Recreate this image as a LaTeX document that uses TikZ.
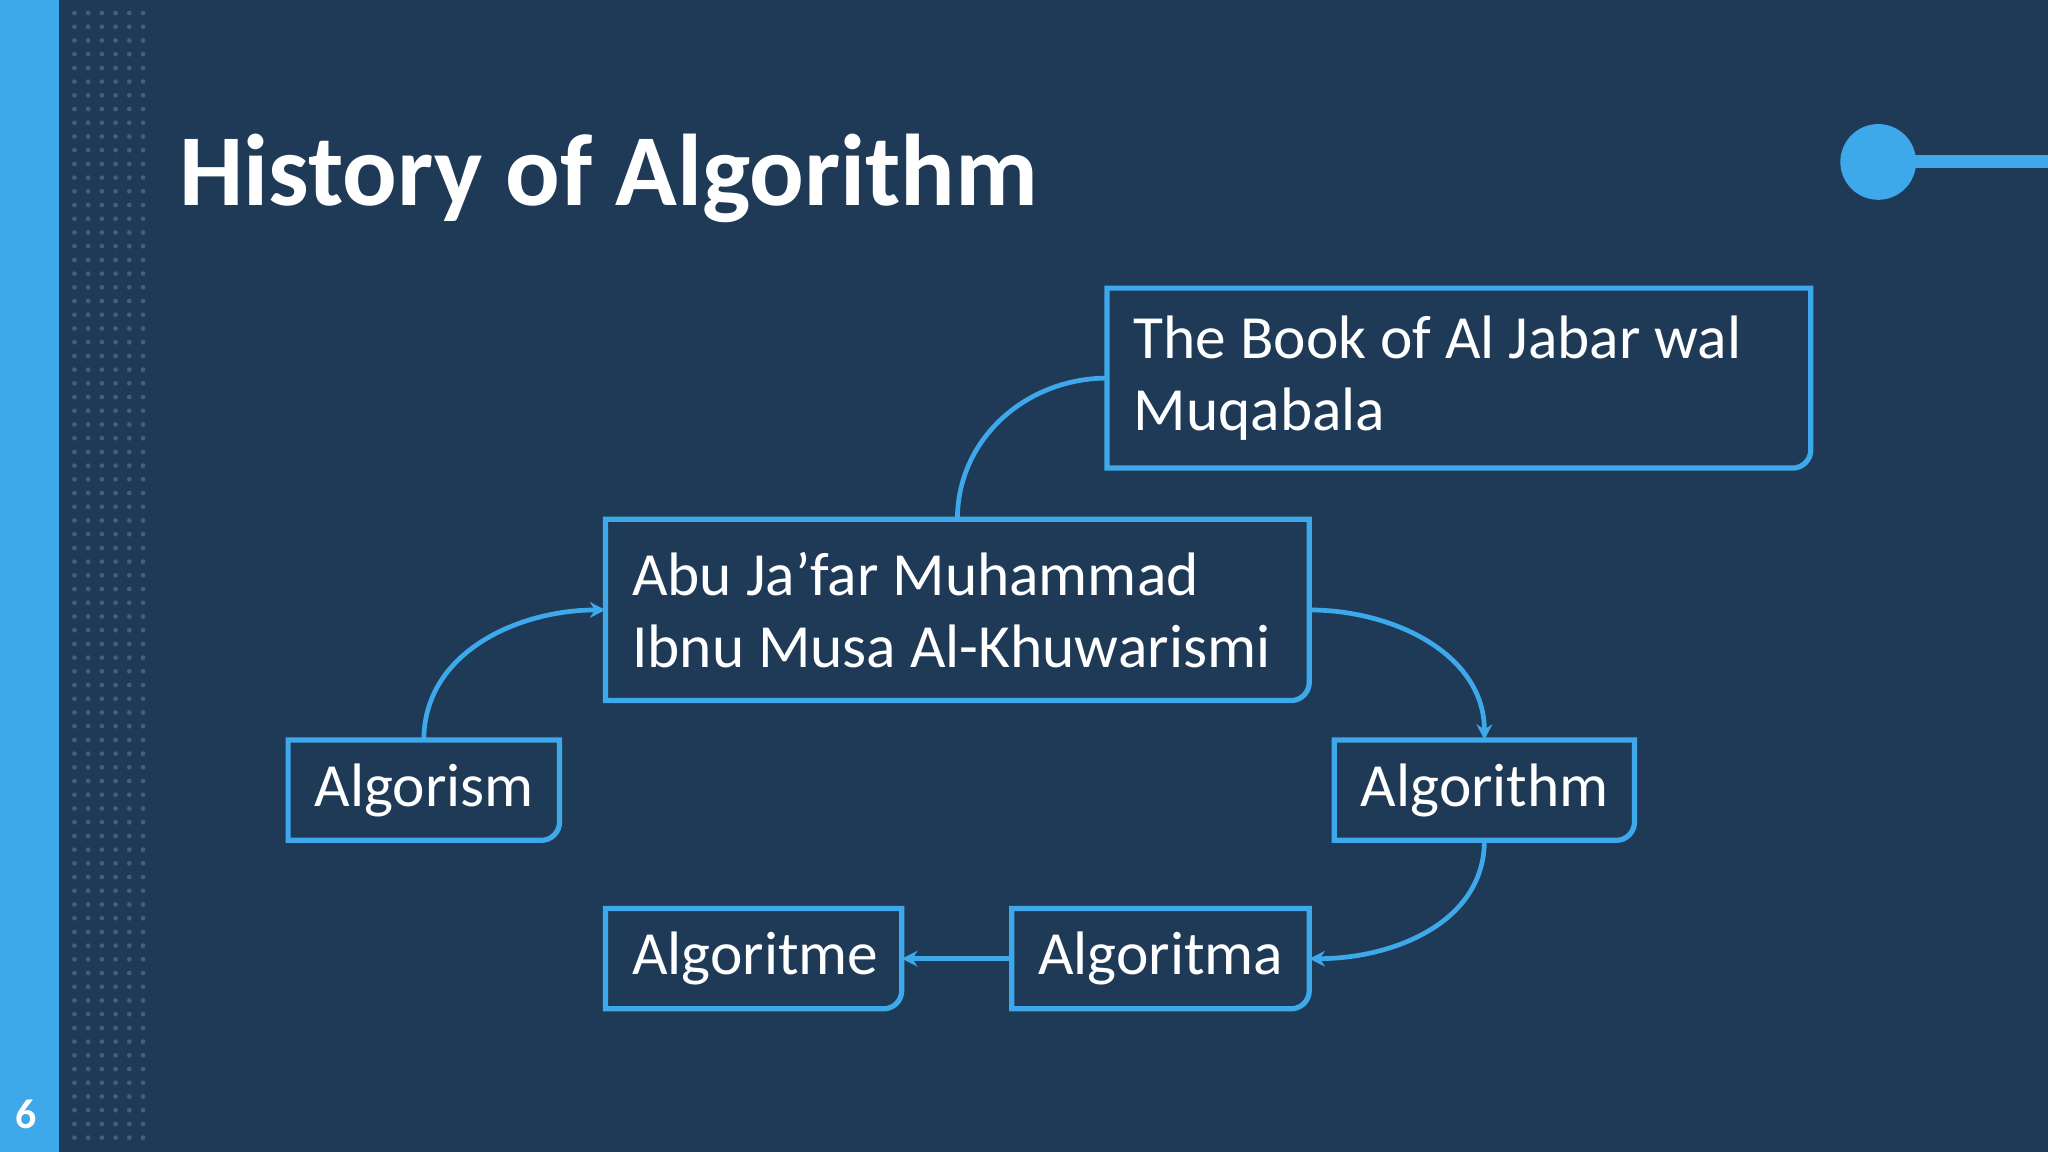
\documentclass[tikz,border=0pt]{standalone}
\usepackage{fontspec}
\setmainfont{Carlito}
\usetikzlibrary{arrows.meta}
\definecolor{bg}{HTML}{1F3A57}
\definecolor{acc}{HTML}{3DA9EA}
\definecolor{dotc}{HTML}{40607F}
\tikzset{
 txt/.style={draw=none,text=white,inner xsep=10pt,inner ysep=0pt,align=flush left,font=\fontsize{23.5}{27.5}\selectfont},
 boxline/.style={draw=acc,line width=2pt},
 conn/.style={draw=acc,line width=1.8pt},
 arr/.style={conn,-{Stealth[length=6pt,width=6pt]}}
}
\newcommand{\mybox}[1]{\draw[boxline] (#1.north west) -- (#1.north east) [rounded corners=7pt] -- (#1.south east) [sharp corners] -- (#1.south west) -- cycle;}
\begin{document}
\begin{tikzpicture}[x=0.5pt,y=0.5pt]
\fill[bg] (0,0) rectangle (1568,882);
\useasboundingbox (0,0) rectangle (1568,882);
\fill[acc] (0,0) rectangle (45,882);
\foreach \i in {0,...,5}{\foreach \j in {0,...,82}{\fill[dotc] (57+10.5*\i,872-10.5*\j) circle (1.8);}}
\node[anchor=base,text=white,font=\bfseries\fontsize{16}{16}\selectfont] (pg) at (20,18) {6};
\node[anchor=base west,text=white,font=\bfseries\fontsize{39}{39}\selectfont,inner sep=0pt] (title) at (137,725) {History of Algorithm};
\fill[acc] (1438,758) circle (29);
\coordinate (re) at (1568,758);
\draw[acc,line width=5pt] (1438,758) -- (re);
\node[txt,minimum width=269pt,minimum height=68.5pt,text width=249pt] (book) at (1117,592.5) {The Book of Al Jabar wal\\Muqabala};
\node[txt,minimum width=269pt,minimum height=69pt,text width=249pt] (abu) at (733,415) {Abu Ja’far Muhammad\\Ibnu Musa Al-Khuwarismi};
\node[txt,minimum width=103.5pt,minimum height=38pt,text width=83.5pt] (ags) at (324.5,277) {Algorism};
\node[txt,minimum width=114.5pt,minimum height=38pt,text width=94.5pt] (agt) at (1136.5,277) {Algorithm};
\node[txt,minimum width=113pt,minimum height=38pt,text width=93pt] (age) at (577,148) {Algoritme};
\node[txt,minimum width=113.5pt,minimum height=38pt,text width=93.5pt] (aga) at (888.5,148) {Algoritma};
\mybox{book}\mybox{abu}\mybox{ags}\mybox{agt}\mybox{age}\mybox{aga}
\draw[conn] (abu.north) to[out=90,in=180] (book.west);
\draw[arr] (ags.north) to[out=90,in=180] (abu.west);
\draw[arr] (abu.east) to[out=0,in=90] (agt.north);
\draw[arr] (agt.south) to[out=-90,in=0] (aga.east);
\draw[arr] (aga.west) -- (age.east);
\end{tikzpicture}
\end{document}
